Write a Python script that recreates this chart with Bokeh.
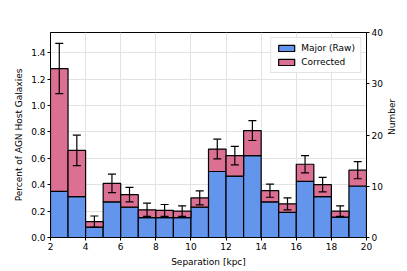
from bokeh.plotting import figure
from bokeh.models import Range1d, LinearAxis, FixedTicker, ColumnDataSource, Whisker, TeeHead, Legend, LegendItem, CustomJSTickFormatter
from bokeh.embed import file_html
from bokeh.resources import INLINE
import math

bin_left = [2, 3, 4, 5, 6, 7, 8, 9, 10, 11, 12, 13, 14, 15, 16, 17, 18, 19]
raw_pct = [0.35, 0.31, 0.078, 0.27, 0.23, 0.15, 0.15, 0.15, 0.23, 0.50, 0.465, 0.62, 0.27, 0.19, 0.425, 0.31, 0.155, 0.39]
corr_pct = [1.28, 0.66, 0.12, 0.41, 0.325, 0.21, 0.205, 0.20, 0.30, 0.67, 0.62, 0.81, 0.355, 0.255, 0.555, 0.40, 0.20, 0.51]
err_pct = [0.19, 0.115, 0.043, 0.07, 0.055, 0.05, 0.045, 0.04, 0.053, 0.075, 0.07, 0.075, 0.05, 0.045, 0.065, 0.055, 0.04, 0.065]
left_ticks = [0.0, 0.2, 0.4, 0.6, 0.8, 1.0, 1.2, 1.4]
right_ticks = [0, 10, 20, 30, 40]
x_ticks = [2, 4, 6, 8, 10, 12, 14, 16, 18, 20]

FONT = "DejaVu Sans"
centers = [b + 0.5 for b in bin_left]
src = ColumnDataSource(dict(
    x=centers, raw=raw_pct, corr=corr_pct,
    lo=[c - e for c, e in zip(corr_pct, err_pct)],
    hi=[c + e for c, e in zip(corr_pct, err_pct)],
))

p = figure(width=407, height=271, output_backend="svg", toolbar_location=None,
           x_range=Range1d(2, 20), y_range=Range1d(0, 1.553),
           min_border_left=50, min_border_right=41, min_border_top=32, min_border_bottom=34)
p.background_fill_color = "white"
p.border_fill_color = "white"
p.outline_line_color = "black"
p.outline_line_width = 1

p.extra_y_ranges = {"num": Range1d(0, 40)}
ax_r = LinearAxis(y_range_name="num", ticker=FixedTicker(ticks=right_ticks), axis_label="Number",
                  axis_label_orientation=math.pi / 2)
p.add_layout(ax_r, "right")

p.xaxis.ticker = FixedTicker(ticks=x_ticks)
p.yaxis[0].ticker = FixedTicker(ticks=left_ticks)
p.yaxis[0].formatter = CustomJSTickFormatter(code="return tick.toFixed(1);")
p.xaxis.axis_label = "Separation [kpc]"
p.yaxis[0].axis_label = "Percent of AGN Host Galaxies"

for ax in p.axis:
    ax.axis_label_text_font = FONT
    ax.axis_label_text_font_style = "normal"
    ax.axis_label_text_font_size = "9px"
    ax.axis_label_text_color = "black"
    ax.major_label_text_font = FONT
    ax.major_label_text_font_size = "9px"
    ax.major_label_text_color = "black"
    ax.axis_line_color = "black"
    ax.major_tick_line_color = "black"
    ax.major_tick_out = 3
    ax.major_tick_in = 0
    ax.minor_tick_line_color = None
    ax.axis_label_standoff = 4
    ax.major_label_standoff = 2
ax_r.axis_label_standoff = 6

p.xgrid.ticker = FixedTicker(ticks=x_ticks)
p.ygrid.ticker = FixedTicker(ticks=left_ticks)
p.grid.grid_line_color = "#e3e3e3"
p.grid.grid_line_width = 1

r_blue = p.vbar(x="x", top="raw", bottom=0, width=1.0, source=src,
                fill_color="#6495ED", line_color="black", line_width=1.2)
r_pink = p.vbar(x="x", top="corr", bottom="raw", width=1.0, source=src,
                fill_color="#DB7093", line_color="black", line_width=1.2)

w = Whisker(source=src, base="x", lower="lo", upper="hi", dimension="height",
            line_color="black", line_width=1.2, level="overlay",
            upper_head=TeeHead(size=8, line_color="black", line_width=1.2),
            lower_head=TeeHead(size=8, line_color="black", line_width=1.2))
p.add_layout(w)

legend = Legend(items=[LegendItem(label="Major (Raw)", renderers=[r_blue]),
                       LegendItem(label="Corrected", renderers=[r_pink])],
                location="top_right")
legend.label_text_font = FONT
legend.label_text_font_size = "9px"
legend.label_text_color = "black"
legend.glyph_width = 20
legend.glyph_height = 8
legend.label_height = 10
legend.spacing = 4
legend.padding = 5
legend.margin = 5
legend.border_line_color = "#cccccc"
legend.background_fill_alpha = 0.8
p.add_layout(legend)

open("out.html", "w").write(file_html(p, INLINE))
